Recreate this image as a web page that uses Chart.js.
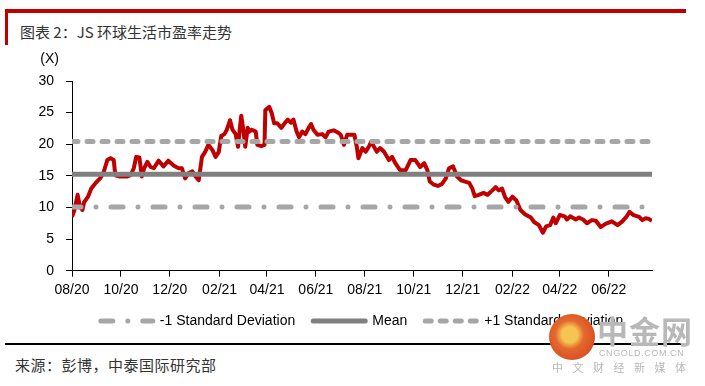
<!DOCTYPE html>
<html>
<head>
<meta charset="utf-8">
<script src="https://cdn.jsdelivr.net/npm/chart.js@4.4.1/dist/chart.umd.min.js"></script>
<style>
  body { margin: 0; width: 705px; height: 386px; background: #fff; position: relative; overflow: hidden; font-family: "Noto Sans CJK SC", sans-serif; }
  .top-bar { position: absolute; left: 5px; top: 9px; width: 681px; height: 4px; background: #C00000; }
  .side-bar { position: absolute; left: 5px; top: 9px; width: 3px; height: 36px; background: #C00000; }
  .title { position: absolute; left: 20px; top: 22px; font-size: 15px; color: #333; line-height: 20px; }
  #chart-wrap { position: absolute; left: 0; top: 45px; width: 705px; height: 293px; }
  .rule { position: absolute; left: 5px; top: 343px; width: 681px; height: 1.5px; background: #000; }
  .source { position: absolute; left: 15px; top: 355px; font-size: 15px; color: #333; letter-spacing: 0.5px; line-height: 20px; }
  .logo { position: absolute; left: 549px; top: 314px; width: 46px; height: 46px; border-radius: 50%;
          background: radial-gradient(circle at 45% 45%, #f6c453 0 22%, #e4692e 40%, #d2381c 100%); }
  .brand { position: absolute; left: 597px; top: 312px; font-size: 31px; font-weight: bold; color: #b8b8b8; letter-spacing: 1px; line-height: 36px; }
  .brand-en { position: absolute; left: 599px; top: 348px; font-size: 9px; color: #b8b8b8; font-family: "Liberation Sans", Arial, sans-serif; line-height: 10px; letter-spacing: 0.6px; }
  .brand-cn { position: absolute; left: 552px; top: 360px; font-size: 11px; color: #b8b8b8; letter-spacing: 9.5px; line-height: 14px; }
</style>
</head>
<body>
<div class="top-bar"></div>
<div class="side-bar"></div>
<div class="title">图表 2：JS 环球生活市盈率走势</div>
<div id="chart-wrap"><canvas id="peChart"></canvas></div>
<div class="rule"></div>
<div class="source">来源：彭博，中泰国际研究部</div>
<div class="logo"></div>
<div class="brand">中金网</div>
<div class="brand-en">CNGOLD.COM.CN</div>
<div class="brand-cn">中文财经新媒体</div>

<script>
// days since 2020-08-01
const days = [0, 3, 7, 10, 13, 15, 20, 24, 29, 35, 39, 44, 48, 52, 54, 60, 69, 73, 77, 80,
  84, 87, 90, 94, 98, 102, 108, 114, 120, 127, 133, 137, 141, 145, 150, 154, 158, 162, 166, 170,
  175, 179, 183, 186, 190, 193, 197, 200, 204, 207, 209, 211, 213, 216, 219, 221, 224, 229, 231, 236,
  240, 241, 246, 249, 252, 256, 261, 265, 269, 273, 276, 280, 283, 287, 291, 295, 298, 301, 306, 312,
  316, 320, 326, 332, 335, 339, 343, 347, 352, 355, 357, 362, 366, 370, 373, 376, 380, 384, 389, 395,
  399, 403, 409, 416, 422, 428, 434, 439, 443, 446, 451, 456, 461, 466, 470, 475, 480, 485, 490, 495,
  499, 502, 507, 513, 518, 524, 528, 532, 536, 540, 544, 549, 554, 559, 565, 572, 576, 582, 587, 591,
  596, 600, 603, 608, 614, 617, 621, 628, 632, 637, 642, 648, 653, 659, 665, 669, 673, 680, 686, 691,
  695, 700, 707, 711, 715, 719, 723];

const peValues = [8.5, 9.6, 12.0, 10.1, 9.6, 10.8, 11.7, 13.0, 13.8, 14.6, 15.4, 17.5, 17.8, 17.5, 15.1, 14.9, 14.9, 15.1, 16.2, 18.0,
  17.9, 14.9, 16.2, 17.2, 16.4, 16.2, 17.4, 16.5, 17.4, 16.6, 16.2, 16.2, 14.6, 15.4, 15.7, 14.9, 14.3, 18.0, 18.8, 19.9,
  19.1, 18.0, 18.8, 21.3, 21.6, 22.3, 23.8, 22.3, 21.6, 19.6, 22.3, 24.5, 22.8, 19.6, 22.6, 22.0, 22.3, 22.0, 19.9, 19.7,
  19.9, 25.4, 25.9, 24.9, 23.3, 23.3, 22.6, 23.3, 23.9, 23.4, 23.9, 22.0, 21.1, 22.0, 21.6, 22.6, 23.2, 22.3, 21.5, 21.6,
  21.1, 22.0, 22.2, 21.8, 21.5, 19.9, 21.5, 21.5, 21.5, 19.6, 17.8, 19.4, 18.8, 19.6, 20.4, 19.7, 18.8, 19.4, 18.8, 17.5,
  18.0, 17.0, 15.9, 15.9, 17.5, 17.5, 16.4, 17.0, 15.9, 14.1, 13.6, 13.4, 13.7, 14.6, 16.2, 16.5, 14.9, 14.3, 14.1, 13.9,
  13.0, 11.8, 12.0, 12.3, 12.0, 12.7, 13.2, 12.7, 13.0, 11.6, 10.9, 11.7, 11.1, 9.6, 8.9, 8.4, 7.7, 7.2, 6.0, 7.0,
  7.2, 8.4, 7.5, 8.8, 8.6, 8.1, 8.6, 8.1, 8.4, 8.1, 7.5, 8.0, 7.9, 6.9, 7.4, 7.6, 7.8, 7.2, 7.8, 8.5,
  9.3, 8.8, 8.5, 8.0, 8.3, 8.2, 7.9];

const meanPE = 15.25;
const stdPE = 5.17;

const tickDays = [0, 61, 122, 184, 243, 304, 365, 426, 487, 549, 608, 669];
const tickLabels = ['08/20', '10/20', '12/20', '02/21', '04/21', '06/21', '08/21', '10/21', '12/21', '02/22', '04/22', '06/22'];
const seriesNames = ['-1 Standard Deviation', 'Mean', '+1 Standard Deviation', 'PE'];

const axisFont = { family: '"Liberation Sans", Arial, sans-serif', size: 14 };
const firstDay = days[0];
const lastDay = days[days.length - 1];

function flatLine(value) {
  return [{ x: firstDay, y: value }, { x: lastDay, y: value }];
}

// draws the "(X)" unit above the y axis
const unitLabel = {
  id: 'unitLabel',
  afterDraw(chart) {
    const { ctx, chartArea } = chart;
    ctx.save();
    ctx.font = '14px "Liberation Sans", Arial, sans-serif';
    ctx.fillStyle = '#000';
    ctx.textAlign = 'right';
    ctx.textBaseline = 'middle';
    ctx.fillText('(X)', chartArea.left - 13, chartArea.top - 22);
    ctx.restore();
  }
};

// legend entries for the three reference lines only, keeping their dash styles
function legendLabels(chart) {
  return chart.data.datasets.slice(0, 3).map((ds, i) => ({
    text: ds.label,
    fillStyle: ds.borderColor,
    strokeStyle: ds.borderColor,
    lineWidth: ds.borderWidth,
    lineDash: ds.borderDash || [],
    lineDashOffset: 0,
    lineCap: ds.borderCapStyle,
    pointStyle: 'line',
    fontColor: '#000',
    hidden: false,
    datasetIndex: i
  }));
}

new Chart(document.getElementById('peChart'), {
  type: 'line',
  data: {
    datasets: [
      {
        label: seriesNames[0],
        data: flatLine(meanPE - stdPE),
        borderColor: '#A6A6A6',
        backgroundColor: '#A6A6A6',
        borderWidth: 5,
        borderCapStyle: 'round',
        borderDash: [12, 15, 0, 15],
        borderDashOffset: 3,
        pointRadius: 0
      },
      {
        label: seriesNames[1],
        data: flatLine(meanPE),
        borderColor: '#808080',
        backgroundColor: '#808080',
        borderWidth: 5,
        borderCapStyle: 'round',
        pointRadius: 0
      },
      {
        label: seriesNames[2],
        data: flatLine(meanPE + stdPE),
        borderColor: '#A6A6A6',
        backgroundColor: '#A6A6A6',
        borderWidth: 5,
        borderCapStyle: 'round',
        borderDash: [6, 9],
        pointRadius: 0
      },
      {
        label: seriesNames[3],
        data: days.map((d, i) => ({ x: d, y: peValues[i] })),
        borderColor: '#C00000',
        backgroundColor: '#C00000',
        borderWidth: 4,
        borderJoinStyle: 'round',
        pointRadius: 0,
        tension: 0
      }
    ]
  },
  options: {
    responsive: true,
    maintainAspectRatio: false,
    animation: false,
    layout: { padding: { left: 0, right: 53, top: 36, bottom: 0 } },
    plugins: {
      tooltip: { enabled: false },
      legend: {
        position: 'bottom',
        fullSize: false,
        labels: {
          generateLabels: legendLabels,
          usePointStyle: true,
          pointStyle: 'line',
          pointStyleWidth: 52,
          padding: 18,
          color: '#000',
          font: axisFont
        }
      }
    },
    scales: {
      x: {
        type: 'linear',
        min: firstDay,
        max: lastDay,
        afterBuildTicks: scale => { scale.ticks = tickDays.map(v => ({ value: v })); },
        afterFit: scale => { scale.height = 25.3; },
        ticks: {
          autoSkip: false,
          maxRotation: 0,
          padding: 5,
          color: '#000',
          font: axisFont,
          callback: (value, index) => tickLabels[index]
        },
        grid: { drawOnChartArea: false, tickLength: 6, color: '#000' },
        border: { color: '#000', width: 1 }
      },
      y: {
        min: 0,
        max: 30,
        afterFit: scale => { scale.width = 72; },
        ticks: { stepSize: 5, padding: 12, color: '#000', font: axisFont },
        grid: { drawOnChartArea: false, tickLength: 6, color: '#000' },
        border: { color: '#000', width: 1 }
      }
    }
  },
  plugins: [unitLabel]
});
</script>
</body>
</html>
